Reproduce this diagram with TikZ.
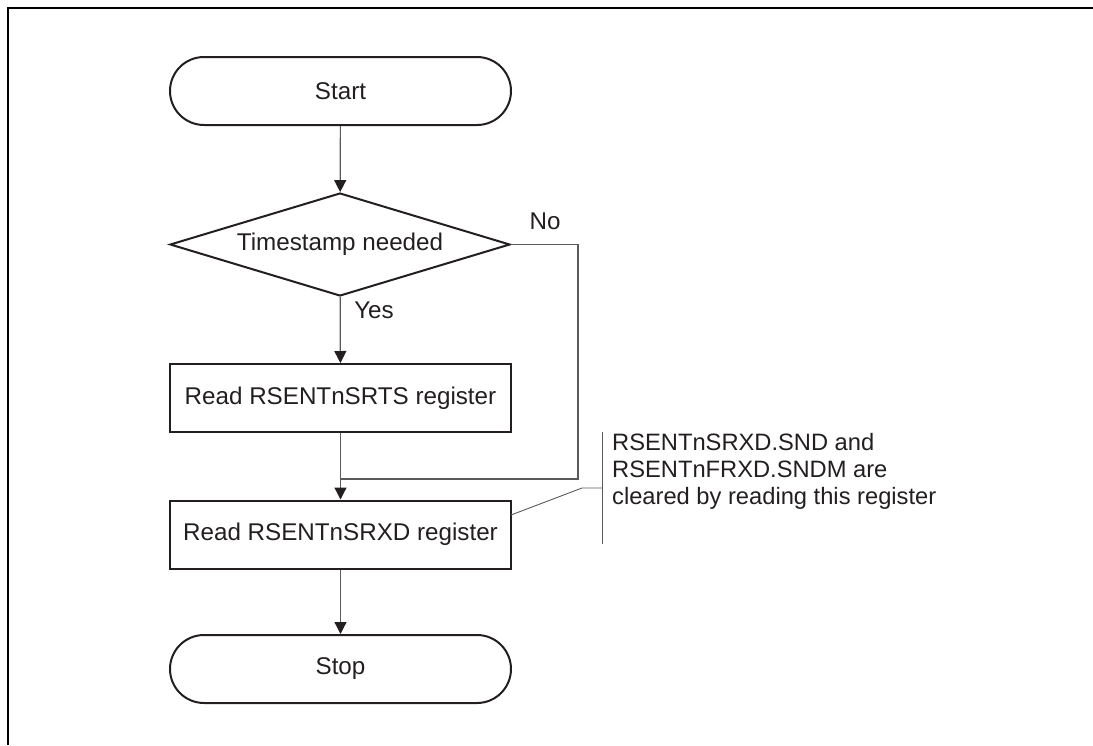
\documentclass[tikz,border=0pt]{standalone}
\usepackage{fontspec}
\setmainfont{Liberation Sans}
\usetikzlibrary{shapes.geometric,arrows.meta}
\definecolor{txt}{HTML}{231F20}
\definecolor{ln}{HTML}{5A5A5A}
\begin{document}
\begin{tikzpicture}[x=1pt,y=-1pt,
 every node/.style={font=\fontsize{24.2}{27}\selectfont, text=txt},
 term/.style={draw=txt, line width=2pt, rounded corners=34pt, minimum width=341pt, minimum height=68pt, inner sep=0pt},
 proc/.style={draw=txt, line width=2pt, minimum width=341pt, minimum height=68pt, inner sep=0pt},
 dec/.style={draw=txt, diamond, shape aspect=3.3, line width=2pt, minimum width=340pt, minimum height=103pt, inner sep=0pt},
 flow/.style={draw=ln, line width=1.2pt, -{Triangle[width=12pt,length=12pt,color=txt]}},
 plain/.style={draw=ln, line width=1.2pt},
 note/.style={draw=ln, line width=0.9pt},
 lbl/.style={inner sep=0pt},
]
\useasboundingbox (0,0) rectangle (1093,745);
\draw[line width=2.5pt, black] (8,745) -- (8,8) -- (1093,8);

\node[term] (start) at (340.5,91) {Start};
\node[dec] (ts) at (340,244.5) {Timestamp needed};
\node[proc] (rd1) at (340.5,398) {Read RSENTnSRTS register};
\node[proc] (rd2) at (340.5,534.5) {Read RSENTnSRXD register};
\node[term] (stop) at (340.5,669) {Stop};

\node[lbl] (no) at (545,221) {No};
\node[lbl] (yes) at (374,310) {Yes};

\coordinate (c1) at (578,244.5);
\coordinate (c2) at (578,479);
\coordinate (m) at (340,479);

\draw[flow] (start) -- (ts);
\draw[flow] (ts) -- (rd1);
\draw[flow] (rd1) -- (rd2);
\draw[plain] (ts.east) -- (c1) -- (c2) -- (m);
\draw[flow] (rd2) -- (stop);

\node[lbl, anchor=west, align=left, font=\fontsize{23.7}{27}\selectfont] (txtn) at (612,471) {RSENTnSRXD.SND and\\RSENTnFRXD.SNDM are\\cleared by reading this register};
\coordinate (b1) at (602,432);
\coordinate (b2) at (602,544);
\coordinate (l0) at (511,515);
\coordinate (l1) at (582,488);
\coordinate (l2) at (602,488);
\draw[note] (b1) -- (b2);
\draw[note] (l0) -- (l1) -- (l2);
\end{tikzpicture}
\end{document}
